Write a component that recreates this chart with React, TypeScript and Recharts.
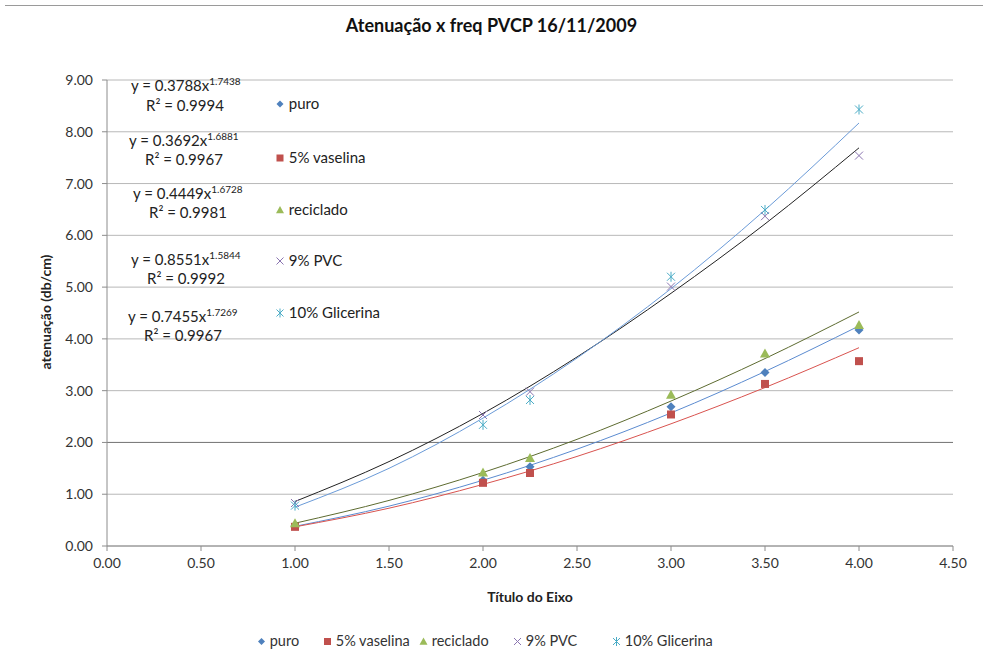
import {
  ComposedChart,
  Scatter,
  Line,
  XAxis,
  YAxis,
  CartesianGrid,
  ReferenceLine,
} from "recharts";

// measured points
const freq = [1, 2, 2.25, 3, 3.5, 4];
const puro = [0.39, 1.27, 1.53, 2.69, 3.35, 4.17];
const vaselina = [0.37, 1.22, 1.41, 2.54, 3.13, 3.57];
const reciclado = [0.44, 1.42, 1.70, 2.92, 3.72, 4.27];
const pvc = [0.83, 2.53, 2.98, 5.01, 6.37, 7.54];
const glicerina = [0.78, 2.34, 2.82, 5.2, 6.49, 8.43];

// power trendlines
const fitX = [1, 1.5, 2, 2.5, 3, 3.5, 4];
const puroFit = [0.38, 0.77, 1.27, 1.87, 2.57, 3.37, 4.25];
const vaselinaFit = [0.37, 0.73, 1.19, 1.73, 2.36, 3.06, 3.83];
const recicladoFit = [0.44, 0.88, 1.42, 2.06, 2.8, 3.62, 4.52];
const pvcFit = [0.86, 1.63, 2.56, 3.65, 4.88, 6.22, 7.69];
const glicerinaFit = [0.75, 1.5, 2.47, 3.63, 4.97, 6.49, 8.17];

const xTicks = [0, 0.5, 1, 1.5, 2, 2.5, 3, 3.5, 4, 4.5];
const yTicks = [0, 1, 2, 3, 4, 5, 6, 7, 8, 9];

const seriesNames = ["puro", "5% vaselina", "reciclado", "9% PVC", "10% Glicerina"];
const equations = [
  { coef: "0.3788", exp: "1.7438", r2: "0.9994" },
  { coef: "0.3692", exp: "1.6881", r2: "0.9967" },
  { coef: "0.4449", exp: "1.6728", r2: "0.9981" },
  { coef: "0.8551", exp: "1.5844", r2: "0.9992" },
  { coef: "0.7455", exp: "1.7269", r2: "0.9967" },
];

const pts = (xs: number[], ys: number[]) => xs.map((x, i) => ({ x, y: ys[i] }));

const FONT = "Lato, 'Liberation Sans', sans-serif";

const Diamond = ({ cx, cy, color = "#4f81bd", s = 4.5 }: any) => (
  <polygon
    points={`${cx},${cy - s} ${cx + s},${cy} ${cx},${cy + s} ${cx - s},${cy}`}
    fill={color}
  />
);
const Square = ({ cx, cy, color = "#c0504d", s = 4 }: any) => (
  <rect x={cx - s} y={cy - s} width={s * 2} height={s * 2} fill={color} />
);
const Triangle = ({ cx, cy, color = "#9bbb59", s = 5 }: any) => (
  <polygon
    points={`${cx},${cy - s} ${cx + s},${cy + s * 0.8} ${cx - s},${cy + s * 0.8}`}
    fill={color}
  />
);
const Cross = ({ cx, cy, color = "#8a74b0", s = 4 }: any) => (
  <g stroke={color} strokeWidth={1}>
    <line x1={cx - s} y1={cy - s} x2={cx + s} y2={cy + s} />
    <line x1={cx - s} y1={cy + s} x2={cx + s} y2={cy - s} />
  </g>
);
const Star = ({ cx, cy, color = "#4bacc6", s = 4 }: any) => (
  <g stroke={color} strokeWidth={1}>
    <line x1={cx - s} y1={cy - s} x2={cx + s} y2={cy + s} />
    <line x1={cx - s} y1={cy + s} x2={cx + s} y2={cy - s} />
    <line x1={cx} y1={cy - s - 1} x2={cx} y2={cy + s + 1} />
  </g>
);

const markers = [Diamond, Square, Triangle, Cross, Star];

const MarkerIcon = ({ idx, size = 10 }: { idx: number; size?: number }) => {
  const M = markers[idx];
  return (
    <svg width={size} height={size} style={{ display: "inline-block", verticalAlign: "middle", marginTop: -2 }}>
      <M cx={size / 2} cy={size / 2} s={idx === 2 ? 4 : 3.5} />
    </svg>
  );
};

// centre y of each text line
const eqPos = [
  { x: 131, y: 85, rx: 146, ry: 105 },
  { x: 129, y: 140, rx: 145, ry: 159 },
  { x: 133, y: 193, rx: 149, ry: 212 },
  { x: 131, y: 259, rx: 147, ry: 278 },
  { x: 128, y: 316, rx: 144, ry: 335 },
];
const innerLegendY = [103, 157, 209, 260, 312];
const bottomLegendX = [257, 323, 419, 513, 612];

const lineBox = (left: number, cy: number, size: number): React.CSSProperties => ({
  position: "absolute",
  left,
  top: cy - 10,
  height: 20,
  lineHeight: "20px",
  fontSize: size,
  whiteSpace: "nowrap",
});

export default function App() {
  return (
    <div
      style={{
        position: "absolute",
        left: 0,
        top: 0,
        width: 983,
        height: 659,
        background: "#fff",
        fontFamily: FONT,
        color: "#222",
      }}
    >
      <div style={{ position: "absolute", left: 5, right: 0, top: 5, borderTop: "1px solid #9a9a9a" }} />
      <div
        style={{
          position: "absolute",
          left: 0,
          width: 983,
          top: 14,
          textAlign: "center",
          fontWeight: 700,
          fontSize: 18,
          color: "#111",
        }}
      >
        Atenuação x freq PVCP 16/11/2009
      </div>

      <ComposedChart
        width={983}
        height={659}
        margin={{ top: 80, right: 30, bottom: 83, left: 47 }}
      >
        <CartesianGrid vertical={false} stroke="#b8b8b8" />
        <XAxis
          type="number"
          dataKey="x"
          domain={[0, 4.5]}
          ticks={xTicks}
          tickFormatter={(v: number) => v.toFixed(2)}
          tick={{ fontSize: 14, fill: "#333", fontFamily: FONT }}
          stroke="#8c8c8c"
          tickSize={5}
          tickMargin={7}
          height={30}
        />
        <YAxis
          type="number"
          dataKey="y"
          domain={[0, 9]}
          ticks={yTicks}
          tickFormatter={(v: number) => v.toFixed(2)}
          tick={{ fontSize: 14, fill: "#333", fontFamily: FONT }}
          stroke="#8c8c8c"
          tickSize={5}
          tickMargin={9}
          width={60}
        />
        <ReferenceLine y={2} stroke="#7a7a7a" />
        <Line data={pts(fitX, puroFit)} dataKey="y" type="monotone" stroke="#5b8bd0" strokeWidth={1} dot={false} isAnimationActive={false} />
        <Line data={pts(fitX, vaselinaFit)} dataKey="y" type="monotone" stroke="#d9534f" strokeWidth={1} dot={false} isAnimationActive={false} />
        <Line data={pts(fitX, recicladoFit)} dataKey="y" type="monotone" stroke="#5d6b30" strokeWidth={1} dot={false} isAnimationActive={false} />
        <Line data={pts(fitX, pvcFit)} dataKey="y" type="monotone" stroke="#222" strokeWidth={1} dot={false} isAnimationActive={false} />
        <Line data={pts(fitX, glicerinaFit)} dataKey="y" type="monotone" stroke="#6b9bd8" strokeWidth={1} dot={false} isAnimationActive={false} />
        <Scatter data={pts(freq, puro)} shape={(p: any) => <Diamond cx={p.cx} cy={p.cy} />} isAnimationActive={false} />
        <Scatter data={pts(freq, vaselina)} shape={(p: any) => <Square cx={p.cx} cy={p.cy} />} isAnimationActive={false} />
        <Scatter data={pts(freq, reciclado)} shape={(p: any) => <Triangle cx={p.cx} cy={p.cy} />} isAnimationActive={false} />
        <Scatter data={pts(freq, pvc)} shape={(p: any) => <Cross cx={p.cx} cy={p.cy} />} isAnimationActive={false} />
        <Scatter data={pts(freq, glicerina)} shape={(p: any) => <Star cx={p.cx} cy={p.cy} />} isAnimationActive={false} />
      </ComposedChart>

      {/* trendline equations */}
      {equations.map((e, i) => (
        <div key={"eq" + i}>
          <div style={lineBox(eqPos[i].x, eqPos[i].y, 15)}>
            y = {e.coef}x
            <span style={{ fontSize: 10, verticalAlign: "top", lineHeight: "12px" }}>{e.exp}</span>
          </div>
          <div style={lineBox(eqPos[i].rx, eqPos[i].ry, 15)}>R² = {e.r2}</div>
        </div>
      ))}

      {/* legend inside the plot */}
      {seriesNames.map((n, i) => (
        <div key={"il" + i} style={lineBox(275, innerLegendY[i], 15)}>
          <MarkerIcon idx={i} /> {n}
        </div>
      ))}

      <div
        style={{
          position: "absolute",
          left: 45,
          top: 312,
          transform: "translate(-50%, -50%) rotate(-90deg)",
          fontWeight: 700,
          fontSize: 14,
          whiteSpace: "nowrap",
        }}
      >
        atenuação (db/cm)
      </div>
      <div
        style={{
          position: "absolute",
          left: 0,
          width: 1060,
          top: 588,
          textAlign: "center",
          fontWeight: 700,
          fontSize: 14,
        }}
      >
        Título do Eixo
      </div>

      {/* bottom legend */}
      {seriesNames.map((n, i) => (
        <div key={"bl" + i} style={{ ...lineBox(bottomLegendX[i], 641, 14.5), color: "#333" }}>
          <MarkerIcon idx={i} size={9} /> {n}
        </div>
      ))}
    </div>
  );
}
